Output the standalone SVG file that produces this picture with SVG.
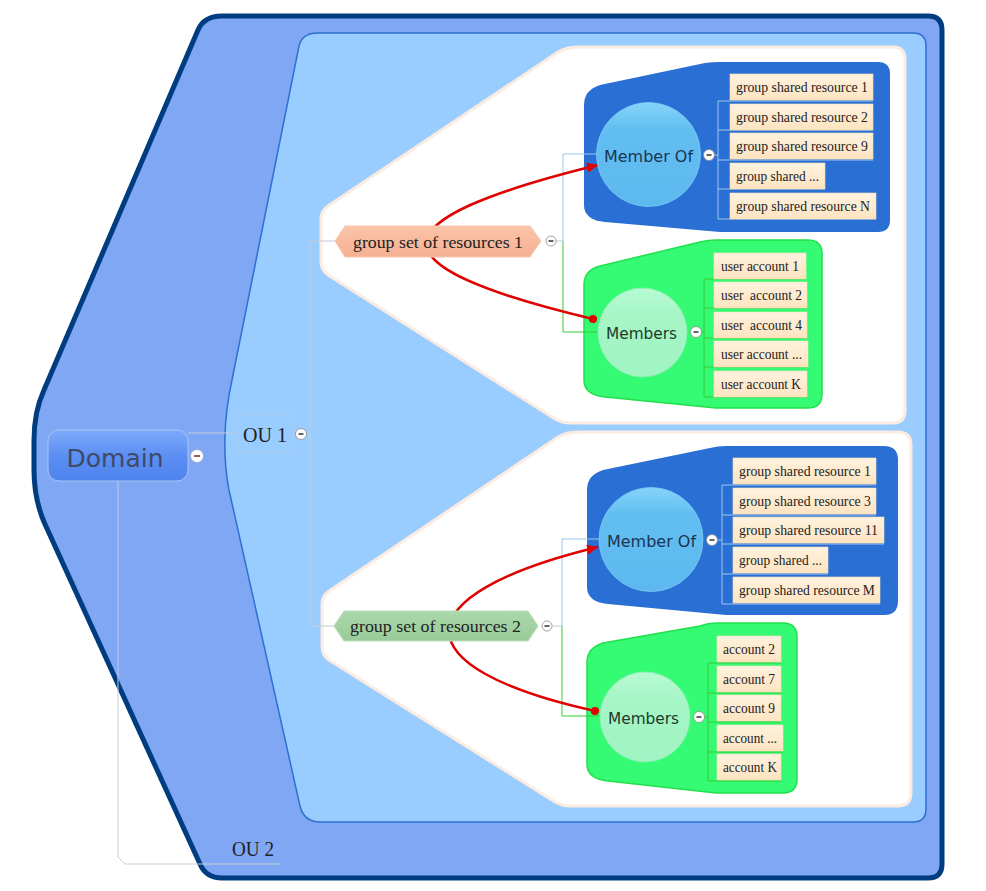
<svg xmlns="http://www.w3.org/2000/svg" width="986" height="891" viewBox="0 0 986 891">
<defs>
<style>
.serif{font-family:"Liberation Serif","Times New Roman",serif;fill:#222}
.sans{font-family:"DejaVu Sans",Verdana,sans-serif}
.leaf{font-size:14px}
.box{fill:url(#leafg);stroke:#f7dcb4;stroke-width:0.6}
.cb{fill:#fff;stroke:#8a8a8a;stroke-width:0.8}
.cbm{stroke:#222;stroke-width:1.4}
.blue{stroke:#9cc6ee;stroke-width:1;fill:none}
.green{stroke:#33cc33;stroke-width:1;fill:none}
.gray{stroke:#c4ccd8;stroke-width:1;fill:none}
.rel{stroke:#e00000;stroke-width:2.5;fill:none}
.wshape{fill:#fff;stroke:#fcebe0;stroke-width:3}
</style>
<linearGradient id="leafg" x1="0" y1="0" x2="0" y2="1"><stop offset="0" stop-color="#fff2df"/><stop offset="1" stop-color="#fde4c0"/></linearGradient>
<linearGradient id="domg" x1="0" y1="0" x2="0" y2="1"><stop offset="0" stop-color="#7eaaf9"/><stop offset="0.5" stop-color="#5c8ff3"/><stop offset="1" stop-color="#4f83ee"/></linearGradient>
<linearGradient id="mog" x1="0" y1="0" x2="0" y2="1"><stop offset="0" stop-color="#85d4f8"/><stop offset="0.25" stop-color="#63bff2"/><stop offset="1" stop-color="#5cb8ee"/></linearGradient>
<linearGradient id="mbg" x1="0" y1="0" x2="0" y2="1"><stop offset="0" stop-color="#b8fbd4"/><stop offset="0.3" stop-color="#a6f6c6"/><stop offset="1" stop-color="#a0f3c2"/></linearGradient>
<linearGradient id="g1g" x1="0" y1="0" x2="0" y2="1"><stop offset="0" stop-color="#fbc4a8"/><stop offset="1" stop-color="#f6b092"/></linearGradient>
<linearGradient id="g2g" x1="0" y1="0" x2="0" y2="1"><stop offset="0" stop-color="#acd8ac"/><stop offset="1" stop-color="#98cb98"/></linearGradient>
<marker id="arr" markerUnits="userSpaceOnUse" markerWidth="14" markerHeight="12" refX="11" refY="5" orient="auto"><path d="M0,0 L11,5 L0,10 Z" fill="#e00000"/></marker>
<marker id="dot" markerUnits="userSpaceOnUse" markerWidth="10" markerHeight="10" refX="5" refY="5" orient="auto"><circle cx="5" cy="5" r="4" fill="#e00000"/></marker>
</defs>

<g id="domain-boundary">
<path d="M222,16 L928,16 Q942,16 942,30 L942,864 Q942,878 928,878 L222,878 Q206,878 200,864 L44,522 Q34,498 34,470 L34,440 Q34,412 44,390 L198,30 Q204,16 222,16 Z" fill="#7fa7f4" stroke="#003d80" stroke-width="5" stroke-linejoin="round"/>
</g>
<g id="ou1-boundary">
<path d="M318,33 L913,33 Q926,33 926,46 L926,809 Q926,822 913,822 L320,822 Q304,822 300,806 L229,490 C223,460 223,420 232,380 L299,46 Q302,33 318,33 Z" fill="#99ccff" stroke="#2f6fd0" stroke-width="1.5"/>
</g>
<g id="group1-boundary">
<path class="wshape" d="M580,47 L893,47 Q905,47 905,59 L905,411 Q905,423 893,423 L570,423 Q562,423 555,419 L328,275 Q321,270 321,262 L321,219 Q321,211 328,206 L558,52 Q566,47 580,47 Z"/>
</g>
<g id="group2-boundary">
<path class="wshape" d="M580,432 L898,432 Q911,432 911,445 L911,793 Q911,806 898,806 L570,806 Q562,806 555,802 L329,660 Q322,655 322,647 L322,604 Q322,596 329,591 L558,437 Q566,432 580,432 Z"/>
</g>
<g id="memberof1-boundary">
<path d="M584,105 Q584,90 600,85 L705,63 Q712,62 720,62 L878,62 Q890,62 890,74 L890,220 Q890,232 878,232 L720,232 L605,222 Q584,220 584,205 Z" fill="#2a6fd4"/>
</g>
<g id="members1-boundary">
<path d="M584,285 Q584,270 600,266 L700,242 Q708,240 716,240 L808,240 Q822,240 822,254 L822,394 Q822,408 808,408 L716,408 L605,397 Q584,395 584,380 Z" fill="#35fb74" stroke="#22e04c" stroke-width="1.5"/>
</g>
<g id="memberof2-boundary">
<path d="M587,490 Q587,475 603,470 L710,448 Q718,446 726,446 L884,446 Q898,446 898,460 L898,601 Q898,615 884,615 L726,615 L608,604 Q587,602 587,587 Z" fill="#2a6fd4"/>
</g>
<g id="members2-boundary">
<path d="M587,662 Q587,648 603,643 L700,626 Q708,623 716,623 L783,623 Q797,623 797,637 L797,779 Q797,793 783,793 L716,793 L608,781 Q587,779 587,764 Z" fill="#35fb74" stroke="#22e04c" stroke-width="1.5"/>
</g>

<g id="connectors">
<path class="gray" d="M188,433 H236"/>
<path class="gray" d="M118,481 V857 L125,864 H280" stroke="#c8c8c8"/>
<path class="gray" d="M306,434 H310 M310,241 V626 M310,241 H335 M310,626 H335"/>
<path class="gray" d="M556,241 H563 M552,626 H562"/>
<path class="blue" d="M598,154 H563 V241"/>
<path class="green" d="M563,241 V332 H598"/>
<path class="blue" d="M599,539 H562 V626"/>
<path class="green" d="M562,626 V716 H600"/>
<path class="blue" d="M714,155 H718 M718,101 V219 M718,101 H873 M718,130 H873 M718,160 H873 M718,189 H825 M718,219 H876"/>
<path class="green" d="M701,332 H704 M704,279 V397 M704,279 H806 M704,308 H807 M704,338 H807 M704,367 H808 M704,397 H807"/>
<path class="blue" d="M717,540 H722 M722,485 V604 M722,485 H876 M722,515 H876 M722,544 H884 M722,574 H828 M722,604 H880"/>
<path class="green" d="M704,717 H708 M708,663 V781 M708,663 H781 M708,693 H781 M708,722 H781 M708,752 H783 M708,781 H781"/>
<path class="rel" d="M593,319 C370,266 370,221 598,165" marker-start="url(#dot)" marker-end="url(#arr)"/>
<path class="rel" d="M595,711 C400,668 400,595 598,547" marker-start="url(#dot)" marker-end="url(#arr)"/>
</g>

<g id="domain">
<rect x="48" y="430" width="140" height="51" rx="11" fill="url(#domg)" stroke="#a9c5f5" stroke-width="1"/>
<text class="sans" x="115" y="467" font-size="25" fill="#3e4a68" text-anchor="middle" textLength="97" lengthAdjust="spacingAndGlyphs">Domain</text>
<circle cx="197" cy="456" r="6.5" fill="#fff" stroke="#a0a8c0" stroke-width="0.8"/>
<path d="M194,456 H200" stroke="#7a3a3a" stroke-width="1.6"/>
</g>

<g id="ou1">
<rect x="237" y="414" width="57" height="37" fill="none" stroke="#b6cde8" stroke-width="0.8"/>
<text class="serif" x="243" y="442" font-size="20" fill="#1e2e4a" textLength="44" lengthAdjust="spacingAndGlyphs">OU 1</text>
<circle class="cb" cx="301" cy="434" r="5.5"/>
<path class="cbm" d="M298.5,434 H303.5"/>
</g>

<g id="ou2">
<text class="serif" x="232" y="856" font-size="20" fill="#1e2e4a" textLength="42" lengthAdjust="spacingAndGlyphs">OU 2</text>
</g>

<g id="group1">
<path d="M335,241 L345,226 L530,226 L541,241 L530,257 L345,257 Z" fill="url(#g1g)" stroke="#f3c7b0" stroke-width="1"/>
<text class="serif" x="353" y="248" font-size="17" textLength="170" lengthAdjust="spacingAndGlyphs">group set of resources 1</text>
<circle class="cb" cx="551" cy="241" r="5"/>
<path class="cbm" d="M548.5,241 H553.5" stroke="#555"/>
</g>

<g id="group2">
<path d="M334,626 L344,611 L528,611 L538,626 L528,641 L344,641 Z" fill="url(#g2g)" stroke="#b8dcb8" stroke-width="1"/>
<text class="serif" x="350" y="632" font-size="17" textLength="171" lengthAdjust="spacingAndGlyphs">group set of resources 2</text>
<circle class="cb" cx="547" cy="626" r="5"/>
<path class="cbm" d="M544.5,626 H549.5" stroke="#555"/>
</g>

<g id="memberof1">
<circle cx="648.5" cy="154.5" r="52" fill="url(#mog)" stroke="#7ccaf2" stroke-width="0.8"/>
<text class="sans" x="604" y="162" font-size="16" fill="#1a3552" textLength="89" lengthAdjust="spacingAndGlyphs">Member Of</text>
<circle class="cb" cx="709" cy="155" r="5.5"/>
<path class="cbm" d="M706.5,155 H711.5"/>
</g>

<g id="members1">
<circle cx="642.5" cy="332.5" r="44.5" fill="url(#mbg)" stroke="#8eecb4" stroke-width="0.8"/>
<text class="sans" x="606" y="339" font-size="16" fill="#1c3a2a" textLength="71" lengthAdjust="spacingAndGlyphs">Members</text>
<circle class="cb" cx="696" cy="332" r="5.5"/>
<path class="cbm" d="M693.5,332 H698.5"/>
</g>

<g id="memberof2">
<circle cx="651" cy="539.5" r="52" fill="url(#mog)" stroke="#7ccaf2" stroke-width="0.8"/>
<text class="sans" x="607" y="547" font-size="16" fill="#1a3552" textLength="89" lengthAdjust="spacingAndGlyphs">Member Of</text>
<circle class="cb" cx="712" cy="540" r="5.5"/>
<path class="cbm" d="M709.5,540 H714.5"/>
</g>

<g id="members2">
<circle cx="645" cy="717" r="45" fill="url(#mbg)" stroke="#8eecb4" stroke-width="0.8"/>
<text class="sans" x="608" y="724" font-size="16" fill="#1c3a2a" textLength="71" lengthAdjust="spacingAndGlyphs">Members</text>
<circle class="cb" cx="699" cy="717" r="5.5"/>
<path class="cbm" d="M696.5,717 H701.5"/>
</g>

<g id="mo1-leaf1"><rect class="box" x="730" y="74" width="143" height="26"/><text class="serif leaf" x="736" y="92" textLength="132" lengthAdjust="spacingAndGlyphs">group shared resource 1</text></g>
<g id="mo1-leaf2"><rect class="box" x="730" y="104" width="143" height="26"/><text class="serif leaf" x="736" y="122" textLength="132" lengthAdjust="spacingAndGlyphs">group shared resource 2</text></g>
<g id="mo1-leaf3"><rect class="box" x="730" y="133" width="143" height="26"/><text class="serif leaf" x="736" y="151" textLength="132" lengthAdjust="spacingAndGlyphs">group shared resource 9</text></g>
<g id="mo1-leaf4"><rect class="box" x="730" y="163" width="95" height="26"/><text class="serif leaf" x="736" y="181" textLength="83" lengthAdjust="spacingAndGlyphs">group shared ...</text></g>
<g id="mo1-leaf5"><rect class="box" x="730" y="193" width="146" height="26"/><text class="serif leaf" x="736" y="211" textLength="134" lengthAdjust="spacingAndGlyphs">group shared resource N</text></g>

<g id="mb1-leaf1"><rect class="box" x="714" y="253" width="92" height="26"/><text class="serif leaf" x="721" y="271" textLength="78" lengthAdjust="spacingAndGlyphs">user account 1</text></g>
<g id="mb1-leaf2"><rect class="box" x="714" y="282" width="93" height="26"/><text class="serif leaf" x="721" y="300" xml:space="preserve" style="white-space:pre" textLength="81" lengthAdjust="spacingAndGlyphs">user  account 2</text></g>
<g id="mb1-leaf3"><rect class="box" x="714" y="312" width="93" height="26"/><text class="serif leaf" x="721" y="330" xml:space="preserve" style="white-space:pre" textLength="81" lengthAdjust="spacingAndGlyphs">user  account 4</text></g>
<g id="mb1-leaf4"><rect class="box" x="714" y="341" width="94" height="26"/><text class="serif leaf" x="721" y="359" textLength="81" lengthAdjust="spacingAndGlyphs">user account ...</text></g>
<g id="mb1-leaf5"><rect class="box" x="714" y="371" width="93" height="26"/><text class="serif leaf" x="721" y="389" textLength="80" lengthAdjust="spacingAndGlyphs">user account K</text></g>

<g id="mo2-leaf1"><rect class="box" x="733" y="458" width="143" height="26"/><text class="serif leaf" x="739" y="476" textLength="132" lengthAdjust="spacingAndGlyphs">group shared resource 1</text></g>
<g id="mo2-leaf2"><rect class="box" x="733" y="488" width="143" height="26"/><text class="serif leaf" x="739" y="506" textLength="132" lengthAdjust="spacingAndGlyphs">group shared resource 3</text></g>
<g id="mo2-leaf3"><rect class="box" x="733" y="517" width="151" height="26"/><text class="serif leaf" x="739" y="535" textLength="139" lengthAdjust="spacingAndGlyphs">group shared resource 11</text></g>
<g id="mo2-leaf4"><rect class="box" x="733" y="547" width="95" height="26"/><text class="serif leaf" x="739" y="565" textLength="83" lengthAdjust="spacingAndGlyphs">group shared ...</text></g>
<g id="mo2-leaf5"><rect class="box" x="733" y="577" width="147" height="26"/><text class="serif leaf" x="739" y="595" textLength="136" lengthAdjust="spacingAndGlyphs">group shared resource M</text></g>

<g id="mb2-leaf1"><rect class="box" x="717" y="636" width="64" height="26"/><text class="serif leaf" x="723" y="654" textLength="52" lengthAdjust="spacingAndGlyphs">account 2</text></g>
<g id="mb2-leaf2"><rect class="box" x="717" y="666" width="64" height="26"/><text class="serif leaf" x="723" y="684" textLength="52" lengthAdjust="spacingAndGlyphs">account 7</text></g>
<g id="mb2-leaf3"><rect class="box" x="717" y="695" width="64" height="26"/><text class="serif leaf" x="723" y="713" textLength="52" lengthAdjust="spacingAndGlyphs">account 9</text></g>
<g id="mb2-leaf4"><rect class="box" x="717" y="725" width="66" height="26"/><text class="serif leaf" x="723" y="743" textLength="54" lengthAdjust="spacingAndGlyphs">account ...</text></g>
<g id="mb2-leaf5"><rect class="box" x="717" y="754" width="64" height="26"/><text class="serif leaf" x="723" y="772" textLength="54" lengthAdjust="spacingAndGlyphs">account K</text></g>
</svg>
